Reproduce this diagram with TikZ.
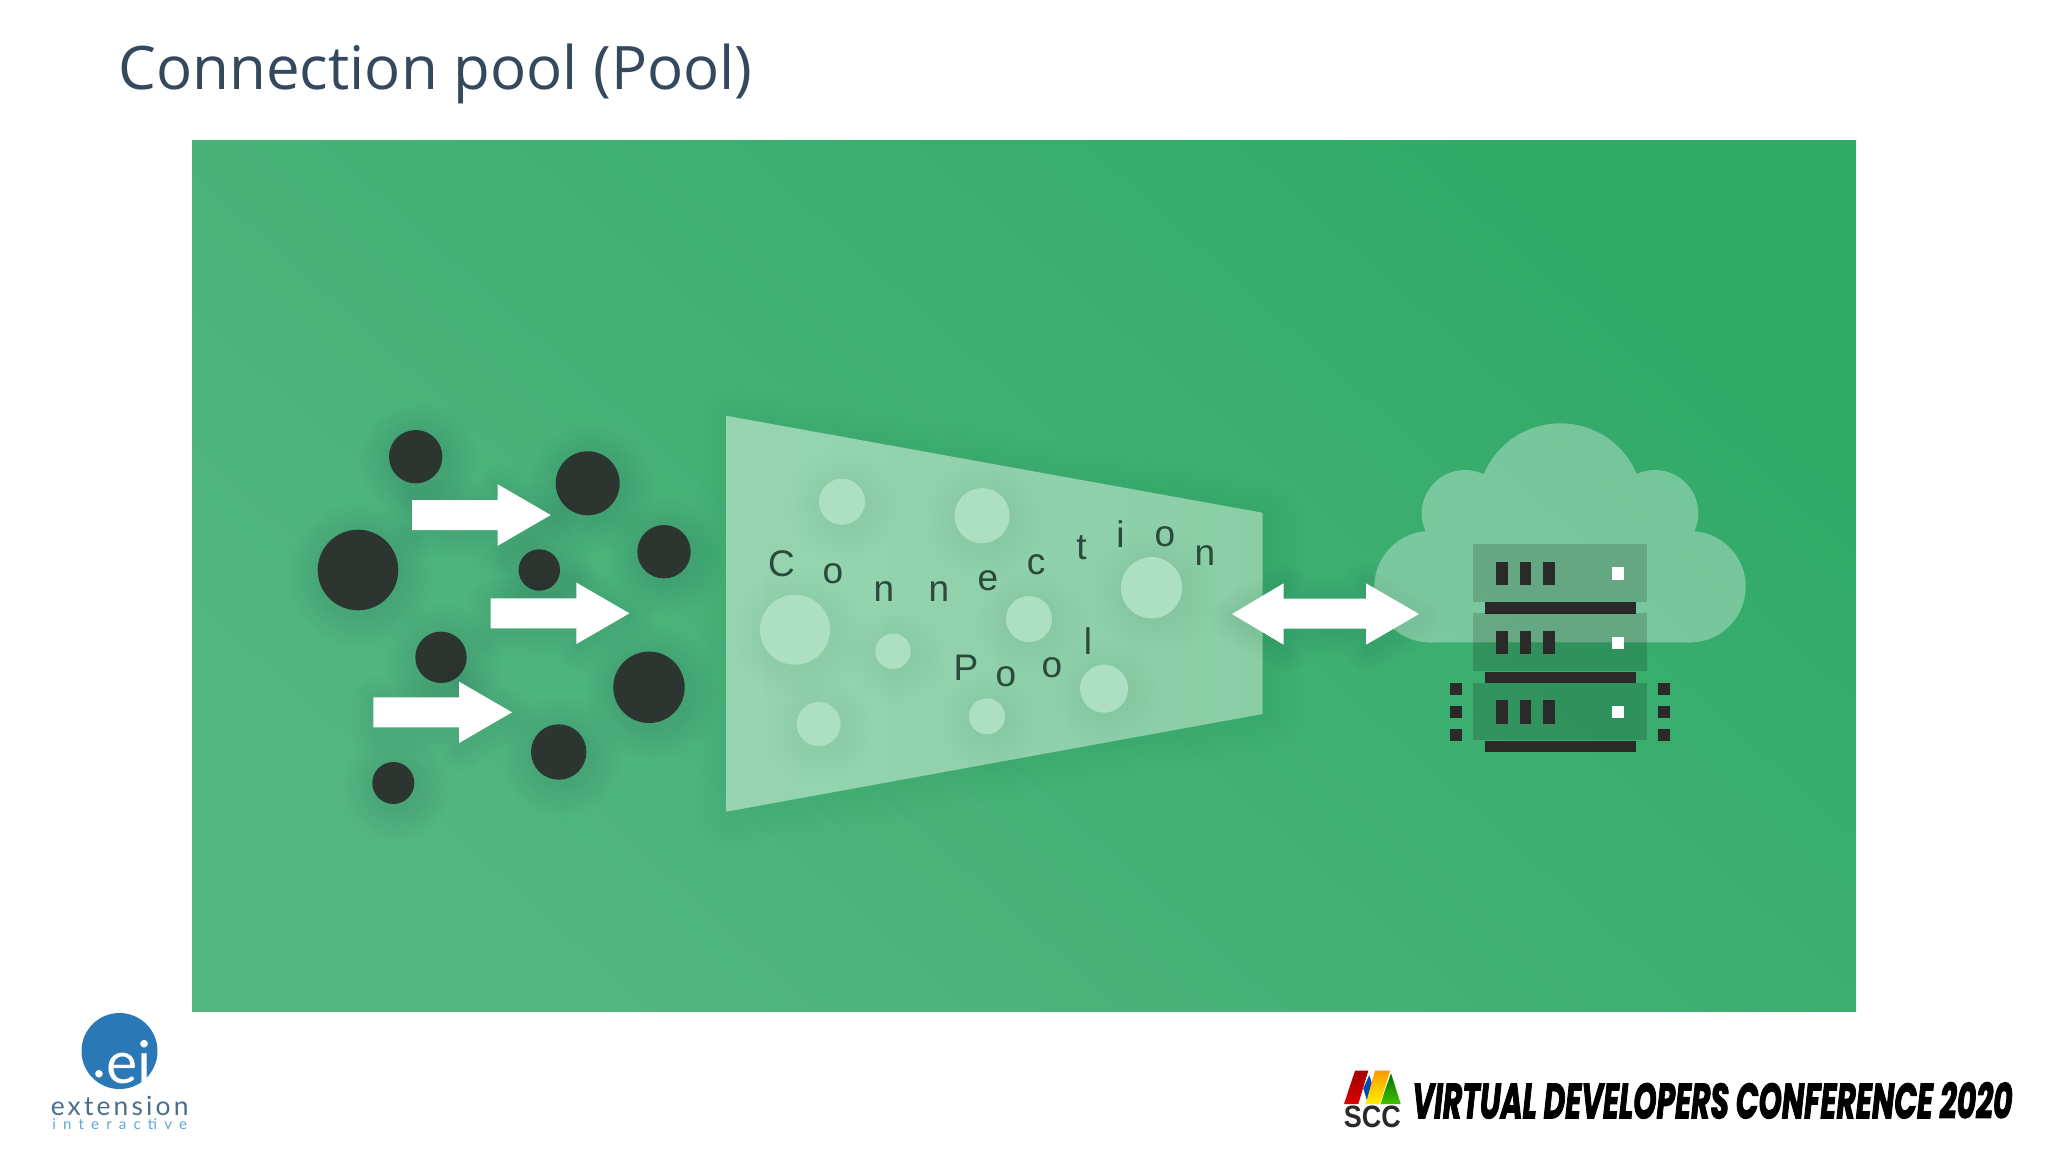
\documentclass[tikz,border=0pt]{standalone}
\usepackage{fontspec}
\setmainfont{Open Sans}
\newfontfamily\lblfont{Liberation Sans}
\newfontfamily\extfont[LetterSpace=12]{Lato}
\newfontfamily\intfont[LetterSpace=48]{Lato}
\newfontfamily\sccfont{Liberation Sans}
\newfontfamily\vdcfont[FakeBold=2.5]{Poppins}
\definecolor{bgA}{HTML}{53B681}
\definecolor{bgB}{HTML}{31AA68}
\definecolor{ink}{HTML}{2C352F}
\definecolor{trA}{HTML}{96D5B0}
\definecolor{trB}{HTML}{8ACEA6}
\definecolor{bub}{HTML}{ADDFC3}
\definecolor{lett}{HTML}{2B4A3B}
\definecolor{titlec}{HTML}{34495E}
\definecolor{eiblue}{HTML}{2A78B6}
\definecolor{extc}{HTML}{4A6F8C}
\definecolor{intc}{HTML}{5AA9D9}
\definecolor{rackc}{HTML}{2A2B29}
\tikzset{
  lett/.style={font=\lblfont\fontsize{18.5}{20}\selectfont,text=lett,anchor=base,inner sep=0pt},
  darkdot/.style={fill=ink},
  bubble/.style={fill=bub},
  rackbar/.style={fill=rackc},
  panel/.style={fill=black,opacity=.16},
  whitearrow/.style={fill=white},
}
\newcommand{\softdisc}[4]{\foreach \k in {1,...,8}{\fill[black,opacity=#4] ({#1+3},{#2+5}) circle [radius={#3+\k*4}];}}
\newcommand{\onearrow}[2]{%
  \foreach \k in {1,...,6}{\draw[black,opacity=.008,line width=\k*4pt,line join=round] ({#1+2},{#2-15+4}) -- ++(85.7,0) -- ++(0,-15.7) -- ({#1+140.7},{#2+4}) -- ({#1+87.7},{#2+30.7+4}) -- ++(0,-15.7) -- ({#1+2},{#2+15+4}) -- cycle;}
  \fill[whitearrow] (#1,{#2-15}) -- ++(85.7,0) -- ++(0,-15.7) -- ({#1+138.7},#2) -- ({#1+85.7},{#2+30.7}) -- ++(0,-15.7) -- (#1,{#2+15}) -- cycle;}
\begin{document}
\begin{tikzpicture}[x=0.5pt,y=-0.5pt]
\useasboundingbox (0,0) rectangle (2048,1152);
\fill[white] (0,0) rectangle (2048,1152);
% title
\node[anchor=base west,inner sep=0pt,text=titlec,font=\fontsize{30}{32}\selectfont] (title) at (118,89) {Connection pool (Pool)};
% green field
\shade[left color=bgA,right color=bgB,shading angle=138] (192,140) rectangle (1856,1011.5);
% dark dots
\foreach \x/\y/\r in {415.7/456.7/26.7,587.7/483.3/32,664/551.7/26.7,539.3/570/20.7,358/570/40.3,441/657.3/25.7,649/687.3/35.7,558.7/752/27.7,393.3/783/21}{
  \softdisc{\x}{\y}{\r}{.006}
}
\foreach \x/\y/\r in {415.7/456.7/26.7,587.7/483.3/32,664/551.7/26.7,539.3/570/20.7,358/570/40.3,441/657.3/25.7,649/687.3/35.7,558.7/752/27.7,393.3/783/21}{
  \fill[darkdot] (\x,\y) circle [radius=\r];
}
% arrows
\onearrow{412}{515}
\onearrow{490.7}{613.3}
\onearrow{373.3}{712.3}
% funnel
\foreach \k in {1,...,7}{\draw[black,opacity=.005,line width=\k*5pt,line join=round] (730,420) -- (1266,517) -- (1266,718) -- (730,816) -- cycle;}
\shade[left color=trA,right color=trB] (726,415.7) -- (1262.5,512.7) -- (1262.5,714) -- (726,811.7) -- cycle;
\foreach \x/\y/\r in {842/501.7/23,982/515.7/27.6,795/629.7/35,1151.5/587.7/30.6,1029/619/23,893/651.3/17.7,1104/688.7/24,818.6/724/22,987/716.3/18}{
  \softdisc{\x}{\y}{\r}{.004}
  \fill[bubble] (\x,\y) circle [radius=\r];
}
% letters
\node[lett] (l1) at (781.5,576.7) {C};
\node[lett] (l2) at (833,583.3) {o};
\node[lett] (l3) at (884,601.7) {n};
\node[lett] (l4) at (939,601.7) {n};
\node[lett] (l5) at (988,590) {e};
\node[lett] (l6) at (1036,574) {c};
\node[lett] (l7) at (1081.5,559) {t};
\node[lett] (l8) at (1120.5,547.3) {i};
\node[lett] (l9) at (1165,546) {o};
\node[lett] (l10) at (1205,565) {n};
\node[lett] (p1) at (966,680) {P};
\node[lett] (p2) at (1006,686) {o};
\node[lett] (p3) at (1052,677.3) {o};
\node[lett] (p4) at (1088,654) {l};
% double arrow
\foreach \k in {1,...,6}{\draw[black,opacity=.008,line width=\k*4pt,line join=round] (1234,618) -- (1285.6,587) -- (1285.6,602) -- (1368,602) -- (1368,587) -- (1421,618) -- (1368,648.7) -- (1368,632) -- (1285.6,632) -- (1285.6,648.7) -- cycle;}
\fill[whitearrow] (1232,614) -- (1283.6,583.3) -- (1283.6,598.5) -- (1366,598.5) -- (1366,583.3) -- (1419,614) -- (1366,644.7) -- (1366,628.5) -- (1283.6,628.5) -- (1283.6,644.7) -- cycle;
% cloud
\begin{scope}[transparency group,opacity=.33]
  \fill[white] (1560.3,506.3) circle [radius=83];
  \fill[white] (1465,513.3) circle [radius=43.3];
  \fill[white] (1655,513.3) circle [radius=43.3];
  \fill[white] (1430,586.7) circle [radius=55.7];
  \fill[white] (1690,586.7) circle [radius=55.7];
  \fill[white] (1430,520) rectangle (1690,642.4);
\end{scope}
% rack
\foreach \d in {0,69.3,138.6}{
  \fill[panel] (1473.3,{544+\d}) rectangle (1646.7,{601.7+\d});
  \fill[rackbar] (1484.7,{602.3+\d}) rectangle (1635.7,{613.7+\d});
  \fill[rackbar] (1496,{561.7+\d}) rectangle (1508,{585+\d});
  \fill[rackbar] (1519.7,{561.7+\d}) rectangle (1531.3,{585+\d});
  \fill[rackbar] (1542.7,{561.7+\d}) rectangle (1554.7,{585+\d});
  \fill[white] (1611.7,{567.3+\d}) rectangle (1624,{579.7+\d});
}
\foreach \y in {683.3,706.3,729.3}{
  \fill[rackbar] (1450.3,\y) rectangle ++(11.7,11.7);
  \fill[rackbar] (1658.3,\y) rectangle ++(11.7,11.7);
}
% ei logo
\fill[eiblue] (119.5,1051) circle [radius=38];
\node[anchor=base,inner sep=0pt,text=white,font=\fontspec{Lato}\fontsize{29.5}{30}\selectfont] (ei) at (122.5,1083) {\raisebox{2.6pt}{.}ei};
\node[anchor=base,inner sep=0pt,text=extc,font=\extfont\fontsize{13.2}{14}\selectfont] (ext) at (119.7,1115) {extension};
\node[anchor=base,inner sep=0pt,text=intc,font=\intfont\fontsize{7.5}{8}\selectfont] (int) at (119.7,1129) {interactive};
% scc logo
\fill[teal!60!blue] (1369.3,1075) -- (1372.7,1086) -- (1367.3,1101.7) -- (1363.3,1088.3) -- cycle;
\shade[top color=red!65!black,bottom color=red!85!black] (1355,1070.7) -- (1368.3,1070.7) -- (1358.3,1104) -- (1344,1104) -- cycle;
\shade[top color=orange!80!yellow,bottom color=yellow!90!orange] (1375,1070.7) -- (1390,1070.7) -- (1380,1104) -- (1365.7,1104) -- cycle;
\shade[top color=green!45!black,bottom color=green!65!yellow!75!black] (1391,1073.3) -- (1400.7,1104) -- (1380.7,1104) -- (1385,1090) -- cycle;
\node[anchor=south,inner sep=0pt,text=rackc,font=\sccfont\bfseries] (scc) at (1372.4,1128.5) {\resizebox{28.5pt}{10.8pt}{SCC}};
\node[anchor=south west,inner sep=0pt,text=black,font=\vdcfont\bfseries\itshape] (vdc) at (1412,1119) {\resizebox{300pt}{18pt}{VIRTUAL DEVELOPERS CONFERENCE 2020}};
\end{tikzpicture}
\end{document}
